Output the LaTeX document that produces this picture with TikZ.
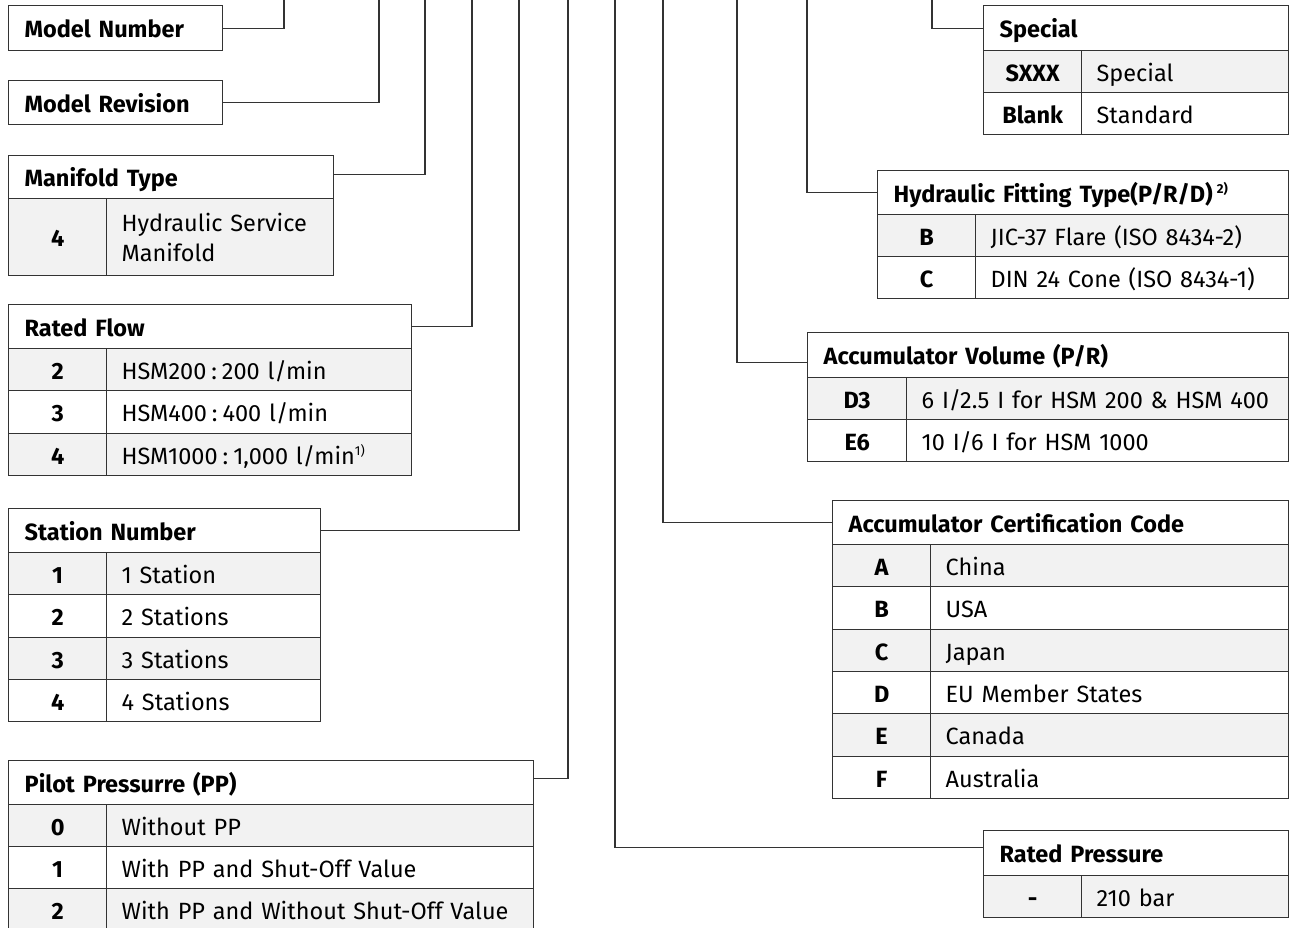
\documentclass[tikz,border=0pt]{standalone}
\usepackage{fontspec}
\setmainfont{Fira Sans}
\definecolor{linec}{HTML}{333333}
\definecolor{rowg}{HTML}{F2F2F2}
\tikzset{
  cellbase/.style={draw=linec, line width=1.3pt, anchor=north west, inner ysep=0pt},
  fixh/.style={text height=19pt, text depth=0pt},
  hdrcell/.style={cellbase, fixh, fill=white, font=\fontsize{23.5}{27}\selectfont\bfseries, inner xsep=16pt, align=left},
  codecell/.style={cellbase, fixh, font=\fontsize{23.5}{27}\selectfont\bfseries, inner xsep=2pt, align=center},
  desccell/.style={cellbase, font=\fontsize{23.5}{30}\selectfont, inner xsep=15pt, align=left},
  conn/.style={draw=linec, line width=1.2pt},
}
\newcommand\tbhead[6]{%
  \pgfmathsetmacro\tbw{#4-32}%
  \node[hdrcell, minimum width=#4pt, minimum height=#5pt, text width=\tbw pt] (#1) at (#2,#3) {#6};}
\newcommand\tbcode[7]{%
  \node[codecell, fill=#6, minimum width=#4pt, minimum height=#5pt] (#1) at (#2,#3) {#7};}
\newcommand\tbdesc[7]{%
  \pgfmathsetmacro\tbw{#4-30}%
  \node[desccell, fixh, fill=#6, minimum width=#4pt, minimum height=#5pt, text width=\tbw pt] (#1) at (#2,#3) {#7};}
\newcommand\supnote[1]{\textsuperscript{\fontsize{13}{13}\selectfont #1}}
\begin{document}
\begin{tikzpicture}[x=1pt, y=-1pt]
\useasboundingbox (0,0) rectangle (1290,928);
\clip (0,0) rectangle (1290,928);

% ---------- left column ----------
\tbhead{mn}{8}{5}{214}{45}{Model Number}
\tbhead{mr}{8}{80}{214}{44}{Model Revision}

\tbhead{mt}{8}{155}{325}{43}{Manifold Type}
\tbcode{mt4c}{8}{198}{98}{77}{rowg}{4}
\node[desccell, fill=rowg, minimum width=227pt, minimum height=77pt, text width=197pt] (mt4d) at (106,198) {Hydraulic Service\\Manifold};

\tbhead{rf}{8}{304}{403}{44}{Rated Flow}
\tbcode{rf2c}{8}{348}{98}{42}{rowg}{2}
\tbdesc{rf2d}{106}{348}{305}{42}{rowg}{HSM200\hspace{5pt}:\hspace{5pt}200 l/min}
\tbcode{rf3c}{8}{390}{98}{43}{white}{3}
\tbdesc{rf3d}{106}{390}{305}{43}{white}{HSM400\hspace{5pt}:\hspace{5pt}400 l/min}
\tbcode{rf4c}{8}{433}{98}{42}{rowg}{4}
\tbdesc{rf4d}{106}{433}{305}{42}{rowg}{HSM1000\hspace{5pt}:\hspace{5pt}1,000 l/min\supnote{1)}}

\tbhead{sn}{8}{508}{312}{44}{Station Number}
\tbcode{sn1c}{8}{552}{98}{42}{rowg}{1}
\tbdesc{sn1d}{106}{552}{214}{42}{rowg}{1 Station}
\tbcode{sn2c}{8}{594}{98}{43}{white}{2}
\tbdesc{sn2d}{106}{594}{214}{43}{white}{2 Stations}
\tbcode{sn3c}{8}{637}{98}{42}{rowg}{3}
\tbdesc{sn3d}{106}{637}{214}{42}{rowg}{3 Stations}
\tbcode{sn4c}{8}{679}{98}{42}{white}{4}
\tbdesc{sn4d}{106}{679}{214}{42}{white}{4 Stations}

\tbhead{pp}{8}{760}{525}{44}{Pilot Pressurre (PP)}
\tbcode{pp0c}{8}{804}{98}{42}{rowg}{0}
\tbdesc{pp0d}{106}{804}{427}{42}{rowg}{Without PP}
\tbcode{pp1c}{8}{846}{98}{42}{white}{1}
\tbdesc{pp1d}{106}{846}{427}{42}{white}{With PP and Shut-Off Value}
\tbcode{pp2c}{8}{888}{98}{42}{rowg}{2}
\tbdesc{pp2d}{106}{888}{427}{42}{rowg}{With PP and Without Shut-Off Value}

% ---------- right column ----------
\tbhead{sp}{983}{5}{305}{45}{Special}
\tbcode{spsc}{983}{50}{98}{42}{rowg}{SXXX}
\tbdesc{spsd}{1081}{50}{207}{42}{rowg}{Special}
\tbcode{spbc}{983}{92}{98}{42}{white}{Blank}
\tbdesc{spbd}{1081}{92}{207}{42}{white}{Standard}

\tbhead{hf}{877}{170}{411}{44}{Hydraulic Fitting Type(P/R/D)\,\supnote{2)}}
\tbcode{hfbc}{877}{214}{98}{42}{rowg}{B}
\tbdesc{hfbd}{975}{214}{313}{42}{rowg}{JIC-37 Flare (ISO 8434-2)}
\tbcode{hfcc}{877}{256}{98}{42}{white}{C}
\tbdesc{hfcd}{975}{256}{313}{42}{white}{DIN 24 Cone (ISO 8434-1)}

\tbhead{av}{807}{332}{481}{45}{Accumulator Volume (P/R)}
\tbcode{avdc}{807}{377}{99}{42}{rowg}{D3}
\tbdesc{avdd}{906}{377}{382}{42}{rowg}{6 I/2.5 I for HSM 200 \& HSM 400}
\tbcode{avec}{807}{419}{99}{42}{white}{E6}
\tbdesc{aved}{906}{419}{382}{42}{white}{10 I/6 I for HSM 1000}

\tbhead{ac}{832}{500}{456}{44}{Accumulator Certification Code}
\tbcode{acac}{832}{544}{98}{42}{rowg}{A}
\tbdesc{acad}{930}{544}{358}{42}{rowg}{China}
\tbcode{acbc}{832}{586}{98}{43}{white}{B}
\tbdesc{acbd}{930}{586}{358}{43}{white}{USA}
\tbcode{accc}{832}{629}{98}{42}{rowg}{C}
\tbdesc{accd}{930}{629}{358}{42}{rowg}{Japan}
\tbcode{acdc}{832}{671}{98}{42}{white}{D}
\tbdesc{acdd}{930}{671}{358}{42}{white}{EU Member States}
\tbcode{acec}{832}{713}{98}{43}{rowg}{E}
\tbdesc{aced}{930}{713}{358}{43}{rowg}{Canada}
\tbcode{acfc}{832}{756}{98}{42}{white}{F}
\tbdesc{acfd}{930}{756}{358}{42}{white}{Australia}

\tbhead{rp}{983}{830}{305}{45}{Rated Pressure}
\tbcode{rpc}{983}{875}{98}{42}{rowg}{-}
\tbdesc{rpd}{1081}{875}{207}{42}{rowg}{210 bar}

% ---------- connectors ----------
\coordinate (t1) at (284,-2);
\coordinate (t2) at (379,-2);
\coordinate (t3) at (425,-2);
\coordinate (t4) at (472,-2);
\coordinate (t5) at (519,-2);
\coordinate (t6) at (568,-2);
\coordinate (t7) at (615,-2);
\coordinate (t8) at (663,-2);
\coordinate (t9) at (737,-2);
\coordinate (t10) at (807,-2);
\coordinate (t11) at (932,-2);

\draw[conn] (mn.east) -| (t1);
\draw[conn] (mr.east) -| (t2);
\draw[conn] ([yshift=3pt]mt.east) -| (t3);
\draw[conn] (rf.east) -| (t4);
\draw[conn] (sn.east) -| (t5);
\draw[conn] ([yshift=4pt]pp.east) -| (t6);
\draw[conn] ([yshift=6pt]rp.west) -| (t7);
\draw[conn] (ac.west) -| (t8);
\draw[conn] ([yshift=-7pt]av.west) -| (t9);
\draw[conn] (hf.west) -| (t10);
\draw[conn] (sp.west) -| (t11);
\end{tikzpicture}
\end{document}
